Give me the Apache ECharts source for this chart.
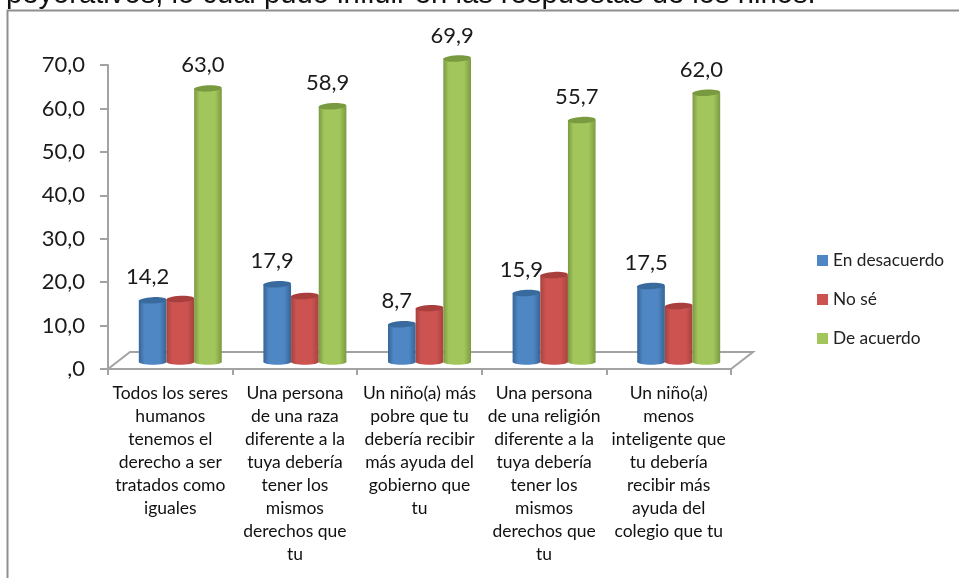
<!DOCTYPE html>
<html><head><meta charset="utf-8">
<style>html,body{margin:0;padding:0;background:#fff}#c{width:959px;height:578px}</style>
<script src="https://cdn.jsdelivr.net/npm/echarts@6/dist/echarts.min.js"></script>
</head><body><div id="c"></div>
<script>
const categories = [
  "Todos los seres\nhumanos\ntenemos el\nderecho a ser\ntratados como\niguales",
  "Una persona\nde una raza\ndiferente a la\ntuya debería\ntener los\nmismos\nderechos que\ntu",
  "Un niño(a) más\npobre que tu\ndebería recibir\nmás ayuda del\ngobierno que\ntu",
  "Una persona\nde una religión\ndiferente a la\ntuya debería\ntener los\nmismos\nderechos que\ntu",
  "Un niño(a)\nmenos\ninteligente que\ntu debería\nrecibir más\nayuda del\ncolegio que tu"
];
const enDesacuerdo = [14.2, 17.9, 8.7, 15.9, 17.5];
const noSe = [14.5, 15.2, 12.4, 20.0, 12.9];
const deAcuerdo = [63.0, 58.9, 69.9, 55.7, 62.0];
const fmt = v => v === 0 ? ",0" : v.toFixed(1).replace(".", ",");

function cyl(idx, edge, mid, top, showLabel) {
  return function (params, api) {
    const i = api.value(0), v = api.value(1);
    const band = api.size([1, 0])[0];
    const w = band * 0.222;
    const c = api.coord([i, v]);
    const b = api.coord([i, 0]);
    const cx = c[0] + (idx - 1) * w;
    const x0 = cx - w / 2;
    const fill = new echarts.graphic.LinearGradient(0, 0, 1, 0, [
      {offset: 0, color: edge}, {offset: 0.2, color: mid},
      {offset: 0.75, color: mid}, {offset: 1, color: edge}]);
    const children = [
      {type: 'ellipse', shape: {cx, cy: b[1], rx: w / 2, ry: 2.8}, style: {fill}},
      {type: 'rect', shape: {x: x0, y: c[1], width: w, height: b[1] - c[1]}, style: {fill}},
      {type: 'ellipse', shape: {cx, cy: c[1], rx: w / 2, ry: 3.2}, rotation: 0.05, originX: cx, originY: c[1], style: {fill: top}}
    ];
    if (showLabel) children.push({
      type: 'text', z2: 50,
      style: {text: fmt(v), x: cx - 5, y: c[1] - 23, align: 'center', verticalAlign: 'middle',
        font: '22px Lato', fill: '#1a1a1a'}
    });
    return {type: 'group', children};
  };
}
const mk = (name, data, idx, edge, mid, top, lab) => ({
  name, type: 'custom', xAxisIndex: 1, yAxisIndex: 1, z: 5 + idx,
  data: data.map((v, i) => [i, v]), encode: {x: 0, y: 1},
  itemStyle: {color: mid}, renderItem: cyl(idx, edge, mid, top, lab)
});

const axisGray = '#a3a3a3';
const chart = echarts.init(document.getElementById('c'), null, {renderer: 'canvas'});
chart.setOption({
  animation: false, backgroundColor: '#fff',
  grid: [
    {left: 108, top: 65, width: 623, height: 304},
    {left: 118, top: 58, width: 623, height: 304}
  ],
  xAxis: [
    {type: 'category', gridIndex: 0, data: categories, boundaryGap: true,
     axisLine: {lineStyle: {color: axisGray, width: 2}},
     axisTick: {show: true, length: 6, alignWithLabel: false, lineStyle: {color: axisGray, width: 2}},
     axisLabel: {interval: 0, margin: 13, fontFamily: 'Lato', fontSize: 17.5, color: '#111', lineHeight: 23, align: 'center', verticalAlign: 'top'}},
    {type: 'category', gridIndex: 1, data: categories, show: false}
  ],
  yAxis: [
    {type: 'value', gridIndex: 0, min: 0, max: 70, interval: 10,
     axisLine: {show: true, lineStyle: {color: axisGray, width: 2}},
     axisTick: {show: true, length: 8, lineStyle: {color: axisGray, width: 2}},
     splitLine: {show: false},
     axisLabel: {margin: 23, formatter: fmt, fontFamily: 'Lato', fontSize: 22, color: '#1a1a1a'}},
    {type: 'value', gridIndex: 1, min: 0, max: 70, interval: 10, show: false, splitLine: {show: false}}
  ],
  legend: {
    orient: 'vertical', left: 817, top: 252, padding: 0, itemWidth: 11, itemHeight: 11, itemGap: 22, icon: 'rect',
    textStyle: {fontFamily: 'Lato', fontSize: 17.3, lineHeight: 16, color: '#222'},
    data: ['En desacuerdo', 'No sé', 'De acuerdo']
  },
  graphic: [
    {type: 'text', left: 6, top: -20, z: 10,
     style: {text: 'peyorativos, lo cual pudo influir en las respuestas de los niños.', font: '29.2px "Liberation Sans"', fill: '#111'}},
    {type: 'polyline', z: 1, shape: {points: [[959, 10.5], [7.5, 10.5], [7.5, 578]]},
     style: {stroke: '#8f8f8f', lineWidth: 2, fill: 'none'}},
    {type: 'polyline', z: 1, shape: {points: [[108, 369], [130, 352], [753, 352], [731, 369]]},
     style: {stroke: axisGray, lineWidth: 2, fill: 'none'}}
  ],
  series: [
    mk('En desacuerdo', enDesacuerdo, 0, '#366594', '#4f86c4', '#386a9e', true),
    mk('No sé', noSe, 1, '#a64340', '#cc5350', '#a83f3d', false),
    mk('De acuerdo', deAcuerdo, 2, '#7b9a42', '#a2c65b', '#7a9a40', true)
  ]
});
</script></body></html>
